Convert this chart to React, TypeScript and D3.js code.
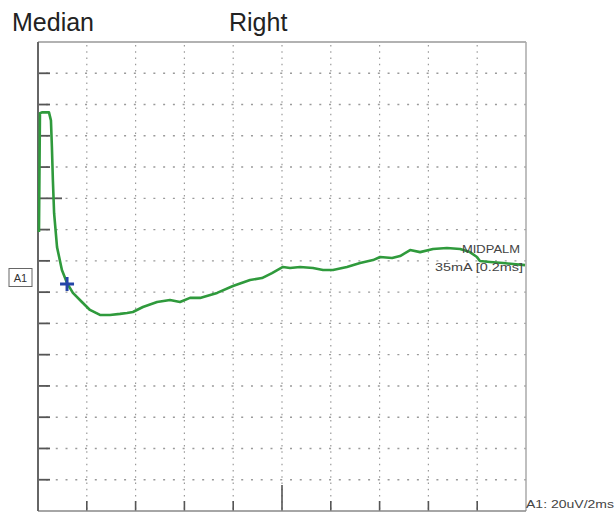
import React from "react";
import * as d3 from "d3";

// Trace: time (ms) and amplitude (uV, 0 = A1 baseline)
const timeMs = [
  0.04, 0.08, 0.16, 0.45, 0.53, 0.57, 0.61, 0.66, 0.78, 0.98, 1.19, 1.43, 1.8, 2.13, 2.54,
  2.95, 3.36, 3.65, 3.89, 4.3, 4.88, 5.41, 5.82, 6.23, 6.64, 7.34, 7.99, 8.69, 9.18, 9.59,
  10.04, 10.33, 10.74, 11.27, 11.68, 12.09, 12.66, 13.2, 13.73, 14.02, 14.51, 14.84, 15.25,
  15.66, 16.19, 16.76, 17.3, 17.7, 17.99, 18.11, 18.52, 19.06, 19.47, 19.96,
];
const amplitudeUv = [
  28.4, 104.4, 105.0, 105.0, 99.9, 82.7, 61.6, 40.5, 18.8, 4.2, -4.2, -10.5, -16.3, -21.4, -24.6,
  -24.6, -23.9, -23.3, -22.7, -19.5, -16.3, -15.0, -16.3, -13.7, -13.7, -10.5, -6.1, -2.2, -1.0, 2.2,
  6.1, 5.4, 6.1, 5.4, 4.2, 4.2, 6.1, 8.6, 10.5, 12.5, 11.8, 13.1, 16.9,
  15.6, 17.6, 18.2, 17.6, 15.6, 12.5, 9.9, 9.3, 8.6, 8.0, 7.3,
];

const cursorMs = 1.19;
const cursorUv = -4.8;

const gridTimes = [2, 4, 6, 8, 10, 12, 14, 16, 18];
const gridAmps = [130, 110, 90, 70, 50, 30, 10, -10, -30, -50, -70, -90, -110, -130];
const longTickTime = 10;
const longTickAmp = 50;

const titleLeft = "Median";
const titleRight = "Right";
const siteLabel = "MIDPALM";
const stimLabel = "35mA [0.2ms]";
const channelLabel = "A1";
const scaleLabel = "A1: 20uV/2ms";

export default function App() {
  const W = 616;
  const H = 514;
  const x = d3.scaleLinear().domain([0, 20]).range([38, 526]);
  const y = d3.scaleLinear().domain([-150, 150]).range([511, 42]);

  const pts: [number, number][] = timeMs.map((t, i) => [t, amplitudeUv[i]]);
  const line = d3
    .line<[number, number]>()
    .x((d) => x(d[0]))
    .y((d) => y(d[1]))
    .curve(d3.curveLinear);

  const gridColor = "#9a9a9a";
  const font = "'Liberation Sans', Arial, sans-serif";
  const cx = x(cursorMs);
  const cy = y(cursorUv);

  return (
    <svg
      width={W}
      height={H}
      style={{ position: "absolute", left: 0, top: 0, background: "#fff" }}
    >
      <rect x={0} y={0} width={W} height={H} fill="#fff" />
      {/* titles */}
      <text x={12} y={31} fontFamily={font} fontSize={25} fill="#222">
        {titleLeft}
      </text>
      <text x={229} y={31} fontFamily={font} fontSize={25} fill="#222">
        {titleRight}
      </text>

      {/* grid */}
      {gridTimes.map((t) => (
        <line
          key={"v" + t}
          x1={x(t)}
          x2={x(t)}
          y1={y(150) + 3}
          y2={y(-150)}
          stroke={gridColor}
          strokeWidth={1.2}
          strokeDasharray="1.6 4.65"
        />
      ))}
      {gridAmps.map((a) => (
        <line
          key={"h" + a}
          x1={x(0) + 8}
          x2={x(20)}
          y1={y(a)}
          y2={y(a)}
          stroke={gridColor}
          strokeWidth={1.4}
          strokeDasharray="2 7.76"
        />
      ))}

      {/* left ticks */}
      {gridAmps.map((a) => (
        <line
          key={"lt" + a}
          x1={x(0)}
          x2={x(0) + (a === longTickAmp ? 24 : 12)}
          y1={y(a)}
          y2={y(a)}
          stroke="#555"
          strokeWidth={1.8}
        />
      ))}
      {/* bottom ticks */}
      {gridTimes.map((t) => (
        <line
          key={"bt" + t}
          x1={x(t)}
          x2={x(t)}
          y1={y(-150)}
          y2={y(-150) - (t === longTickTime ? 26 : 10)}
          stroke="#555"
          strokeWidth={1.6}
        />
      ))}

      {/* frame */}
      <line x1={x(0)} x2={x(20)} y1={y(150)} y2={y(150)} stroke="#999" strokeWidth={1.5} />
      <line x1={x(20)} x2={x(20)} y1={y(150)} y2={y(-150)} stroke="#aaa" strokeWidth={1.5} />
      <line x1={x(0)} x2={x(20)} y1={y(-150)} y2={y(-150)} stroke="#888" strokeWidth={1.5} />
      <line x1={x(0)} x2={x(0)} y1={y(150)} y2={y(-150)} stroke="#666" strokeWidth={2} />

      {/* channel label box */}
      <rect x={9} y={268.5} width={23} height={18} fill="#fff" stroke="#666" strokeWidth={1} />
      <text x={20.5} y={282} fontFamily={font} fontSize={11} fill="#333" textAnchor="middle">
        {channelLabel}
      </text>

      {/* trace */}
      <path d={line(pts) || ""} fill="none" stroke="#2f9a3c" strokeWidth={2.6} strokeLinejoin="round" />

      {/* cursor */}
      <line x1={cx - 7} x2={cx + 7} y1={cy} y2={cy} stroke="#2545a8" strokeWidth={3} />
      <line x1={cx} x2={cx} y1={cy - 7} y2={cy + 7} stroke="#2545a8" strokeWidth={3} />

      {/* annotations */}
      <text
        x={462}
        y={253}
        fontFamily={font}
        fontSize={11}
        fill="#444"
        textLength={58}
        lengthAdjust="spacingAndGlyphs"
      >
        {siteLabel}
      </text>
      <text
        x={435}
        y={271}
        fontFamily={font}
        fontSize={11}
        fill="#444"
        textLength={88}
        lengthAdjust="spacingAndGlyphs"
      >
        {stimLabel}
      </text>
      <text
        x={526}
        y={508}
        fontFamily={font}
        fontSize={10.5}
        fill="#444"
        textLength={88}
        lengthAdjust="spacingAndGlyphs"
      >
        {scaleLabel}
      </text>
    </svg>
  );
}
